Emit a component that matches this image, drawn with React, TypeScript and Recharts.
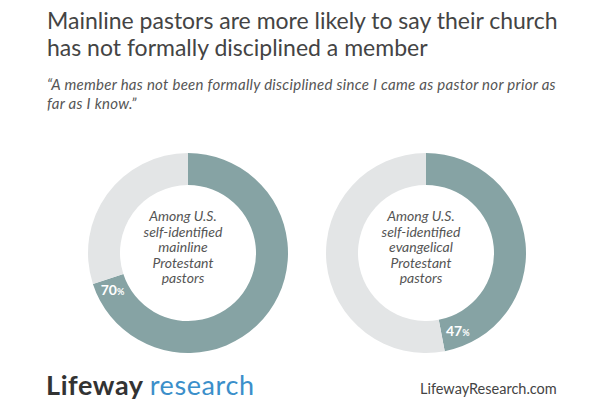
import React from 'react';
import { PieChart, Pie, Cell } from 'recharts';

// values
const mainlineShares = [
    { name: 'Not formally disciplined', value: 70 },
    { name: 'Other', value: 30 },
];
const evangelicalShares = [
    { name: 'Not formally disciplined', value: 47 },
    { name: 'Other', value: 53 },
];
const mainlineCaption = ['Among U.S.', 'self-identified', 'mainline', 'Protestant', 'pastors'];
const evangelicalCaption = ['Among U.S.', 'self-identified', 'evangelical', 'Protestant', 'pastors'];
const sliceColors = ['#86a3a4', '#e3e5e6'];

const FONT = 'Lato, "Open Sans", sans-serif';
const RADIAN = Math.PI / 180;

// percent label tucked just inside the end of the coloured arc
const renderPct = (props: any) => {
    const { cx, cy, innerRadius, outerRadius, endAngle, value, index } = props;
    if (index !== 0) return null;
    const r = (innerRadius + outerRadius) / 2;
    const e = endAngle * RADIAN;
    const px = 3 + Math.abs(Math.sin(e)) * 13 + Math.abs(Math.cos(e)) * 5;
    const a = e + px / r;
    const x = cx + r * Math.cos(a);
    const y = cy - r * Math.sin(a);
    return (
        <text x={x} y={y + 5} fill="#ffffff" fontFamily={FONT} fontWeight={700} fontSize={14}
            textAnchor="middle">
            {value}
            <tspan fontSize={9}>%</tspan>
        </text>
    );
};

const Caption: React.FC<{ lines: string[]; cx: number; cy: number }> = ({ lines, cx, cy }) => (
    <div style={{
        position: 'absolute', left: cx - 70, top: cy - 40, width: 140,
        textAlign: 'center', fontFamily: FONT, fontStyle: 'italic', fontSize: 14,
        lineHeight: '15.5px', color: '#555',
    }}>
        {lines.map((l) => <div key={l}>{l}</div>)}
    </div>
);

export default function App() {
    return (
        <div style={{ position: 'absolute', left: 0, top: 0, width: 610, height: 416, background: '#fff', overflow: 'hidden' }}>
            <div style={{ position: 'absolute', left: 47, top: 7, fontFamily: FONT, fontSize: 23, lineHeight: '27px', color: '#444' }}>
                Mainline pastors are more likely to say their church<br />
                has not formally disciplined a member
            </div>
            <div style={{ position: 'absolute', left: 47, top: 75, width: 515, fontFamily: FONT, fontStyle: 'italic', fontSize: 15, letterSpacing: 0.28, lineHeight: '19px', color: '#555' }}>
                “A member has not been formally disciplined since I came as pastor nor prior as far as I know.”
            </div>

            <div style={{ position: 'absolute', left: 0, top: 0 }}>
                <PieChart width={610} height={416}>
                    <Pie data={mainlineShares} dataKey="value" cx={183} cy={248} innerRadius={68} outerRadius={100}
                        startAngle={90} endAngle={-270} stroke="none" label={renderPct} labelLine={false}
                        isAnimationActive={false}>
                        {mainlineShares.map((d, i) => <Cell key={d.name} fill={sliceColors[i]} />)}
                    </Pie>
                    <Pie data={evangelicalShares} dataKey="value" cx={421} cy={248} innerRadius={68} outerRadius={100}
                        startAngle={90} endAngle={-270} stroke="none" label={renderPct} labelLine={false}
                        isAnimationActive={false}>
                        {evangelicalShares.map((d, i) => <Cell key={d.name} fill={sliceColors[i]} />)}
                    </Pie>
                </PieChart>
            </div>

            <Caption lines={mainlineCaption} cx={183} cy={248} />
            <Caption lines={evangelicalCaption} cx={421} cy={248} />

            <div style={{ position: 'absolute', left: 46, top: 368, fontFamily: FONT, fontSize: 27, color: '#333', letterSpacing: 0.6 }}>
                <span style={{ fontWeight: 700 }}>Lifeway</span>
                <span style={{ color: '#3b8fca', marginLeft: 6 }}>research</span>
            </div>
            <div style={{ position: 'absolute', left: 420, top: 380, fontFamily: FONT, fontSize: 14.5, color: '#444' }}>
                LifewayResearch.com
            </div>
        </div>
    );
}
